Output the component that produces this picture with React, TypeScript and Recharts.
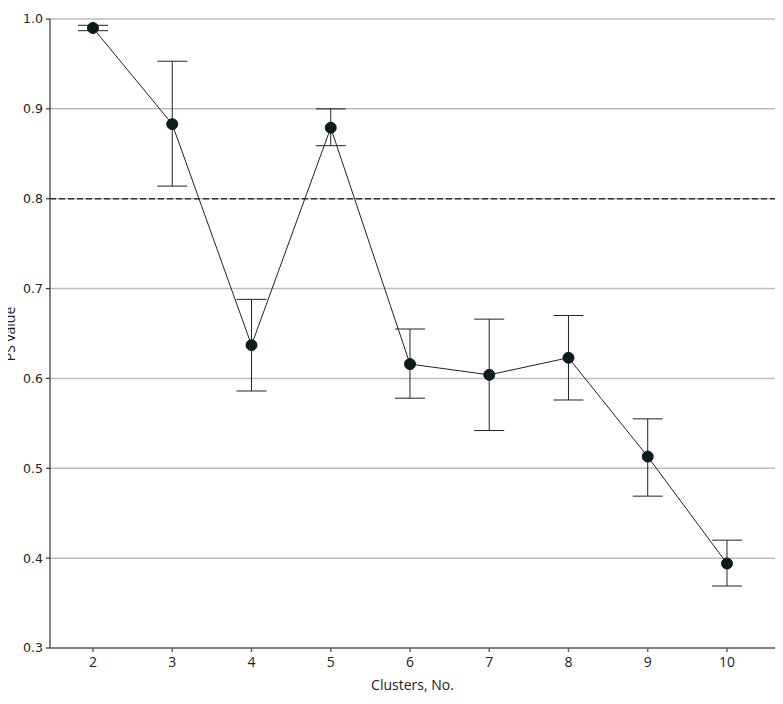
import React from 'react';
import { LineChart, Line, XAxis, YAxis, CartesianGrid, ErrorBar, ReferenceLine } from 'recharts';

const clusters = [2, 3, 4, 5, 6, 7, 8, 9, 10];
const psValue = [0.99, 0.883, 0.637, 0.879, 0.616, 0.604, 0.623, 0.513, 0.394];
const ciLow = [0.987, 0.814, 0.586, 0.859, 0.578, 0.542, 0.576, 0.469, 0.369];
const ciHigh = [0.993, 0.953, 0.688, 0.9, 0.655, 0.666, 0.67, 0.555, 0.42];
const yTicks = [0.3, 0.4, 0.5, 0.6, 0.7, 0.8, 0.9, 1.0];
const xTicks = [2, 3, 4, 5, 6, 7, 8, 9, 10];

const data = clusters.map((c, i) => ({
  cluster: c,
  ps: psValue[i],
  err: [psValue[i] - ciLow[i], ciHigh[i] - psValue[i]],
}));

const narrow = "'Liberation Sans Narrow', 'Open Sans', Lato, sans-serif";

export default function App() {
  return (
    <div style={{ position: 'relative', marginLeft: -8, marginTop: -8, width: 780, height: 694 }}>
      <LineChart
        width={780}
        height={694}
        data={data}
        margin={{ top: 19, right: 5, left: 0, bottom: 0 }}
      >
        <CartesianGrid vertical={false} stroke="#bdbdbd" strokeWidth={1.5} />
        <XAxis
          dataKey="cluster"
          type="number"
          domain={[1.4575, 10.606]}
          ticks={xTicks}
          allowDataOverflow
          height={46}
          tickSize={4}
          tickMargin={5}
          stroke="#666"
          strokeWidth={1.5}
          tick={{ fill: '#222', fontSize: 14, fontFamily: narrow }}
          label={{ value: 'Clusters, No.', position: 'insideBottom', offset: 4, fill: '#222', fontSize: 14, fontFamily: narrow }}
        />
        <YAxis
          type="number"
          domain={[0.3, 1.0]}
          ticks={yTicks}
          width={50}
          tickSize={4}
          tickMargin={3}
          stroke="#333"
          strokeWidth={1.2}
          tickFormatter={(v: number) => v.toFixed(1)}
          tick={{ fill: '#222', fontSize: 12.5, fontFamily: "'DejaVu Sans', sans-serif" }}
        />
        <ReferenceLine y={0.8} stroke="#333" strokeWidth={1.5} strokeDasharray="6 3" />
        <Line
          dataKey="ps"
          stroke="#222"
          strokeWidth={1}
          isAnimationActive={false}
          dot={{ r: 5.5, fill: '#0b1c1c', stroke: '#0b1c1c', strokeWidth: 1 }}
          activeDot={false}
        >
          <ErrorBar dataKey="err" direction="y" width={15} stroke="#222" strokeWidth={1} />
        </Line>
      </LineChart>
      <div
        style={{
          position: 'absolute',
          left: 2,
          top: 306,
          width: 16,
          height: 56,
          display: 'flex',
          alignItems: 'center',
          justifyContent: 'center',
        }}
      >
        <div
          style={{
            transform: 'rotate(-90deg)',
            whiteSpace: 'nowrap',
            fontSize: 14,
            lineHeight: '16px',
            color: '#222',
            fontFamily: narrow,
          }}
        >
          PS value
        </div>
      </div>
    </div>
  );
}
